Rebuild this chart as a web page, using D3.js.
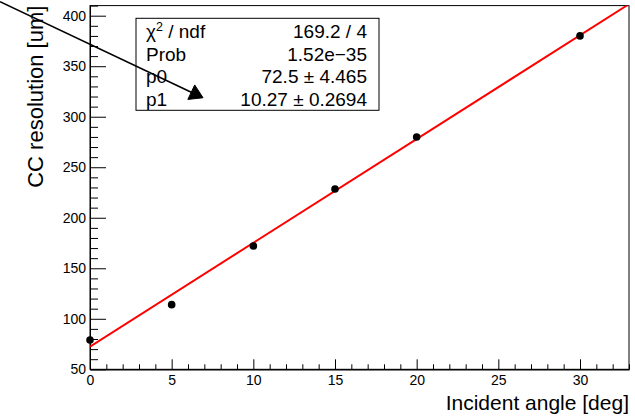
<!DOCTYPE html>
<html>
<head>
<meta charset="utf-8">
<script src="https://cdn.jsdelivr.net/npm/d3@7"></script>
<style>
  html, body { margin: 0; padding: 0; background: #fff; }
  svg { display: block; font-family: "Liberation Sans", Arial, Helvetica, sans-serif; }
</style>
</head>
<body>
<svg id="chart" width="635" height="417"></svg>
<script>
// Measured points: cluster-counting resolution vs. incident angle
const angles = [0, 5, 10, 15, 20, 30];
const resolution = [79, 114, 172, 228.5, 280, 380];

// Linear fit result: resolution = p0 + p1 * angle
const fitP0 = 72.5;
const fitP1 = 10.27;

// Fit statistics box
const statLabels = ["χ", "Prob", "p0", "p1"];
const statValues = ["169.2 / 4", "1.52e\u221235", "72.5 \u00b1 4.465", "10.27 \u00b1 0.2694"];

// Axis ranges and ticks
const xDomain = [0, 33];
const yDomain = [50, 410];
const xMajorTicks = [0, 5, 10, 15, 20, 25, 30];
const xMinorTicks = d3.range(0, 34, 1).filter(v => v % 5 !== 0);
const yMajorTicks = [50, 100, 150, 200, 250, 300, 350, 400];
const yMinorTicks = d3.range(50, 411, 10).filter(v => v % 50 !== 0);

// Annotation arrow (data coordinates): start, tip
const arrowFrom = [-5.51, 413.9];
const arrowTo = [6.92, 318.8];

const svg = d3.select("#chart");
const frame = { left: 90, right: 629, top: 5.6, bottom: 369.3 };

const x = d3.scaleLinear().domain(xDomain).range([frame.left, frame.right]);
const y = d3.scaleLinear().domain(yDomain).range([frame.bottom, frame.top]);

svg.append("defs").append("clipPath").attr("id", "plotClip")
  .append("rect")
  .attr("x", frame.left).attr("y", frame.top)
  .attr("width", frame.right - frame.left)
  .attr("height", frame.bottom - frame.top);

// Frame
svg.append("rect")
  .attr("x", frame.left).attr("y", frame.top)
  .attr("width", frame.right - frame.left)
  .attr("height", frame.bottom - frame.top)
  .attr("fill", "none").attr("stroke", "#000").attr("stroke-width", 1);

// X axis: major ticks with labels, minor ticks without
const xAxis = svg.append("g").attr("transform", `translate(0,${frame.bottom})`);
xAxis.call(d3.axisBottom(x).tickValues(xMajorTicks).tickSizeInner(-10).tickSizeOuter(0).tickPadding(6).tickFormat(d3.format("d")));
svg.append("g").attr("transform", `translate(0,${frame.bottom})`)
  .call(d3.axisBottom(x).tickValues(xMinorTicks).tickSizeInner(-5).tickSizeOuter(0).tickFormat(""));

// Y axis
const yAxis = svg.append("g").attr("transform", `translate(${frame.left},0)`);
yAxis.call(d3.axisLeft(y).tickValues(yMajorTicks).tickSizeInner(-16).tickSizeOuter(0).tickPadding(4).tickFormat(d3.format("d")));
svg.append("g").attr("transform", `translate(${frame.left},0)`)
  .call(d3.axisLeft(y).tickValues(yMinorTicks).tickSizeInner(-8).tickSizeOuter(0).tickFormat(""));

svg.selectAll(".tick text")
  .attr("font-family", "Liberation Sans, Arial, sans-serif")
  .attr("font-size", 14).attr("fill", "#000");
svg.selectAll(".domain, .tick line").attr("stroke", "#000").attr("stroke-width", 1);

// Axis titles
svg.append("text")
  .attr("x", frame.right).attr("y", 410)
  .attr("text-anchor", "end")
  .attr("font-size", 21)
  .attr("fill", "#000")
  .text("Incident angle [deg]");

svg.append("text")
  .attr("transform", `translate(43,${frame.top}) rotate(-90)`)
  .attr("text-anchor", "end")
  .attr("font-size", 22)
  .attr("fill", "#000")
  .text("CC resolution [um]");

// Fit line
const plot = svg.append("g").attr("clip-path", "url(#plotClip)");
const fitLine = d3.line().x(d => x(d)).y(d => y(fitP0 + fitP1 * d));
plot.append("path")
  .datum(xDomain)
  .attr("d", fitLine)
  .attr("fill", "none")
  .attr("stroke", "#ff0000")
  .attr("stroke-width", 2);

// Data points
svg.append("g").selectAll("circle")
  .data(angles.map((a, i) => [a, resolution[i]]))
  .join("circle")
  .attr("cx", d => x(d[0]))
  .attr("cy", d => y(d[1]))
  .attr("r", 3.8)
  .attr("fill", "#000");

// Statistics box
const box = { x: 136, y: 18.3, w: 243, h: 92 };
svg.append("rect")
  .attr("x", box.x).attr("y", box.y)
  .attr("width", box.w).attr("height", box.h)
  .attr("fill", "#fff").attr("stroke", "#000").attr("stroke-width", 1);

const rowBase = [38.3, 60.8, 83.3, 105.5];
statLabels.forEach((lab, i) => {
  const t = svg.append("text")
    .attr("x", box.x + 10).attr("y", rowBase[i])
    .attr("font-size", 19).attr("fill", "#000");
  if (i === 0) {
    t.append("tspan").text(lab);
    t.append("tspan").attr("font-size", 12.5).attr("dy", -7.5).text("2");
    t.append("tspan").attr("dy", 7.5).text(" / ndf");
  } else {
    t.text(lab);
  }
  svg.append("text")
    .attr("x", box.x + box.w - 12).attr("y", rowBase[i])
    .attr("text-anchor", "end")
    .attr("font-size", 19).attr("fill", "#000")
    .text(statValues[i]);
});

// Annotation arrow
const ax0 = x(arrowFrom[0]), ay0 = y(arrowFrom[1]);
const ax1 = x(arrowTo[0]), ay1 = y(arrowTo[1]);
const ang = Math.atan2(ay1 - ay0, ax1 - ax0);
const headLen = 13, headHalf = 8;
const bx = ax1 - headLen * Math.cos(ang), by = ay1 - headLen * Math.sin(ang);
svg.append("line")
  .attr("x1", ax0).attr("y1", ay0).attr("x2", bx).attr("y2", by)
  .attr("stroke", "#000").attr("stroke-width", 1.6);
svg.append("path")
  .attr("d", d3.line()([
    [ax1, ay1],
    [bx - headHalf * Math.sin(ang), by + headHalf * Math.cos(ang)],
    [bx + headHalf * Math.sin(ang), by - headHalf * Math.cos(ang)]
  ]) + "Z")
  .attr("fill", "#000").attr("stroke", "#000").attr("stroke-width", 1);
</script>
</body>
</html>
